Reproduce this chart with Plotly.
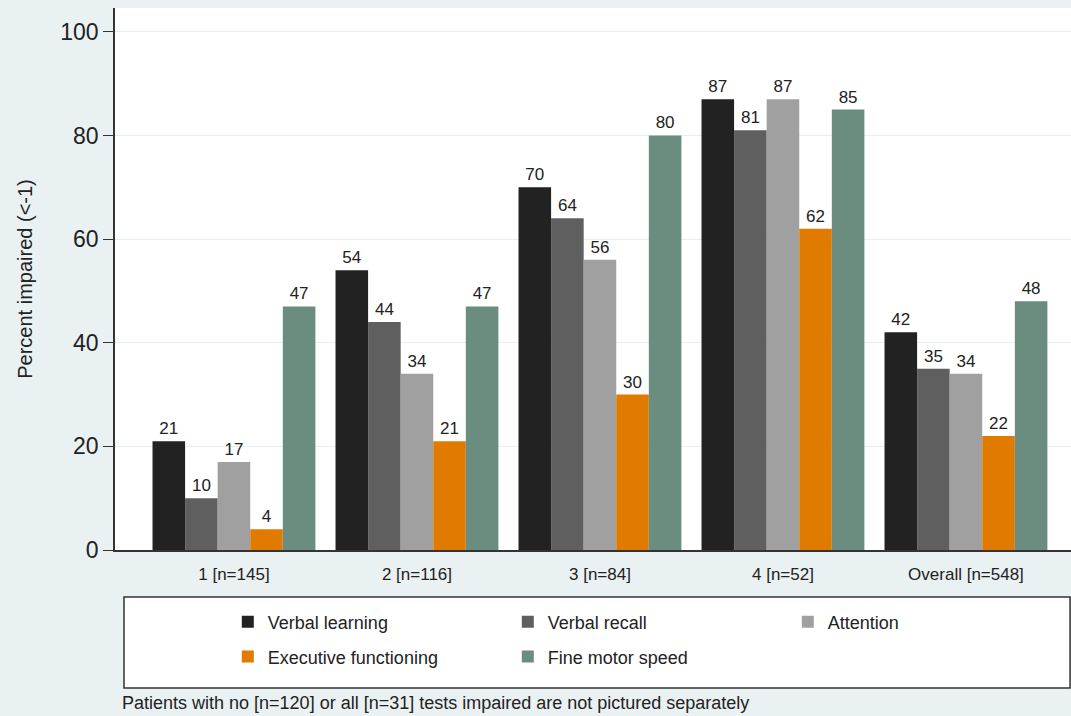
import plotly.graph_objects as go

categories = ["1 [n=145]", "2 [n=116]", "3 [n=84]", "4 [n=52]", "Overall [n=548]"]
series_names = ["Verbal learning", "Verbal recall", "Attention", "Executive functioning", "Fine motor speed"]
verbal_learning = [21, 54, 70, 87, 42]
verbal_recall = [10, 44, 64, 81, 35]
attention = [17, 34, 56, 87, 34]
executive_functioning = [4, 21, 30, 62, 22]
fine_motor_speed = [47, 47, 80, 85, 48]
colors = ["#222222", "#5f5f5f", "#a0a0a0", "#e07b00", "#6b8d80"]
y_ticks = [0, 20, 40, 60, 80, 100]

all_series = [verbal_learning, verbal_recall, attention, executive_functioning, fine_motor_speed]
legend_ids = ["legend", "legend", "legend", "legend2", "legend2"]

fig = go.Figure()
for name, vals, col, lg in zip(series_names, all_series, colors, legend_ids):
    fig.add_trace(go.Bar(
        x=categories, y=vals, name=name, legend=lg,
        marker=dict(color=col, line=dict(width=0)),
        text=[str(v) for v in vals], textposition="outside", cliponaxis=False,
        textfont=dict(size=17, color="#222222", family="Arial, Liberation Sans"),
    ))

legend_common = dict(orientation="h", xanchor="left", yanchor="middle",
                     entrywidth=235, entrywidthmode="pixels", font=dict(size=18, color="#222222"),
                     bgcolor="rgba(0,0,0,0)", traceorder="normal", itemwidth=30)

fig.update_layout(
    width=1071, height=716,
    margin=dict(l=115, r=0, t=8, b=166, autoexpand=False),
    paper_bgcolor="#eaf1f3", plot_bgcolor="white",
    barmode="group", bargap=0.11, bargroupgap=0,
    font=dict(family="Arial, Liberation Sans", color="#222222"),
    showlegend=True,
    legend=dict(x=0.118, y=-0.133, **legend_common),
    legend2=dict(x=0.118, y=-0.197, **legend_common),
    shapes=[dict(type="rect", xref="paper", yref="paper", x0=0.0094, x1=0.999,
                 y0=-0.0867, y1=-0.2546, line=dict(color="#333333", width=1.5),
                 fillcolor="white", layer="below")],
    annotations=[dict(text="Patients with no [n=120] or all [n=31] tests impaired are not pictured separately",
                      xref="paper", yref="paper", x=0.005, y=-0.282, xanchor="left", yanchor="middle",
                      showarrow=False, font=dict(size=18, color="#222222"))],
)
fig.update_yaxes(range=[0, 104.6], tickvals=y_ticks, ticks="outside", ticklen=10, tickcolor="#333333",
                 showline=True, linecolor="#333333", linewidth=1.5, showgrid=True, gridcolor="#e6eef0",
                 tickfont=dict(size=23), title=dict(text="Percent impaired (<-1)", font=dict(size=20), standoff=22),
                 zeroline=False)
fig.update_xaxes(range=[-0.65, 4.574], showline=True, linecolor="#333333", linewidth=1.5,
                 ticks="", tickfont=dict(size=17), showgrid=False, ticklabelstandoff=8)

fig.write_html("out.html", config={"displayModeBar": False},
               post_script="document.body.style.margin='0';document.body.style.overflow='hidden';")
